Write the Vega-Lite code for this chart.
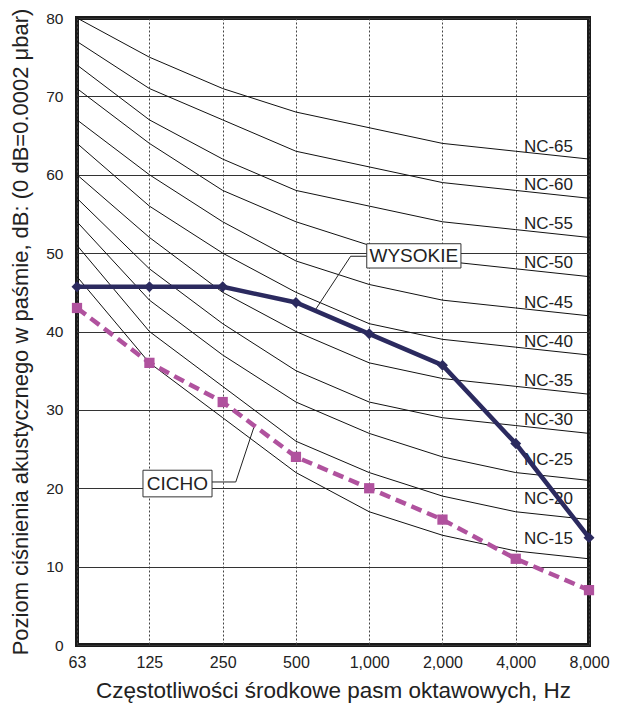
{
  "$schema": "https://vega.github.io/schema/vega-lite/v6.json",
  "width": 512,
  "height": 627,
  "autosize": "none",
  "padding": {"left": 77, "top": 18, "right": 30, "bottom": 63},
  "background": "white",
  "config": {
    "font": "Liberation Sans",
    "view": {"stroke": "#1a1a1a", "strokeWidth": 4},
    "axis": {"labelColor": "#222", "titleColor": "#222", "titleFontWeight": "normal", "domain": false, "ticks": false, "labelFlush": false}
  },
  "datasets": {
    "nc": [
      {"nc": "NC-15", "f": 63, "db": 47}, {"nc": "NC-15", "f": 125, "db": 36}, {"nc": "NC-15", "f": 250, "db": 29}, {"nc": "NC-15", "f": 500, "db": 22}, {"nc": "NC-15", "f": 1000, "db": 17}, {"nc": "NC-15", "f": 2000, "db": 14}, {"nc": "NC-15", "f": 4000, "db": 12}, {"nc": "NC-15", "f": 8000, "db": 11},
      {"nc": "NC-20", "f": 63, "db": 51}, {"nc": "NC-20", "f": 125, "db": 40}, {"nc": "NC-20", "f": 250, "db": 33}, {"nc": "NC-20", "f": 500, "db": 26}, {"nc": "NC-20", "f": 1000, "db": 22}, {"nc": "NC-20", "f": 2000, "db": 19}, {"nc": "NC-20", "f": 4000, "db": 17}, {"nc": "NC-20", "f": 8000, "db": 16},
      {"nc": "NC-25", "f": 63, "db": 54}, {"nc": "NC-25", "f": 125, "db": 44}, {"nc": "NC-25", "f": 250, "db": 37}, {"nc": "NC-25", "f": 500, "db": 31}, {"nc": "NC-25", "f": 1000, "db": 27}, {"nc": "NC-25", "f": 2000, "db": 24}, {"nc": "NC-25", "f": 4000, "db": 22}, {"nc": "NC-25", "f": 8000, "db": 21},
      {"nc": "NC-30", "f": 63, "db": 57}, {"nc": "NC-30", "f": 125, "db": 48}, {"nc": "NC-30", "f": 250, "db": 41}, {"nc": "NC-30", "f": 500, "db": 35}, {"nc": "NC-30", "f": 1000, "db": 31}, {"nc": "NC-30", "f": 2000, "db": 29}, {"nc": "NC-30", "f": 4000, "db": 28}, {"nc": "NC-30", "f": 8000, "db": 27},
      {"nc": "NC-35", "f": 63, "db": 60}, {"nc": "NC-35", "f": 125, "db": 52}, {"nc": "NC-35", "f": 250, "db": 45}, {"nc": "NC-35", "f": 500, "db": 40}, {"nc": "NC-35", "f": 1000, "db": 36}, {"nc": "NC-35", "f": 2000, "db": 34}, {"nc": "NC-35", "f": 4000, "db": 33}, {"nc": "NC-35", "f": 8000, "db": 32},
      {"nc": "NC-40", "f": 63, "db": 64}, {"nc": "NC-40", "f": 125, "db": 56}, {"nc": "NC-40", "f": 250, "db": 50}, {"nc": "NC-40", "f": 500, "db": 45}, {"nc": "NC-40", "f": 1000, "db": 41}, {"nc": "NC-40", "f": 2000, "db": 39}, {"nc": "NC-40", "f": 4000, "db": 38}, {"nc": "NC-40", "f": 8000, "db": 37},
      {"nc": "NC-45", "f": 63, "db": 67}, {"nc": "NC-45", "f": 125, "db": 60}, {"nc": "NC-45", "f": 250, "db": 54}, {"nc": "NC-45", "f": 500, "db": 49}, {"nc": "NC-45", "f": 1000, "db": 46}, {"nc": "NC-45", "f": 2000, "db": 44}, {"nc": "NC-45", "f": 4000, "db": 43}, {"nc": "NC-45", "f": 8000, "db": 42},
      {"nc": "NC-50", "f": 63, "db": 71}, {"nc": "NC-50", "f": 125, "db": 64}, {"nc": "NC-50", "f": 250, "db": 58}, {"nc": "NC-50", "f": 500, "db": 54}, {"nc": "NC-50", "f": 1000, "db": 51}, {"nc": "NC-50", "f": 2000, "db": 49}, {"nc": "NC-50", "f": 4000, "db": 48}, {"nc": "NC-50", "f": 8000, "db": 47},
      {"nc": "NC-55", "f": 63, "db": 74}, {"nc": "NC-55", "f": 125, "db": 67}, {"nc": "NC-55", "f": 250, "db": 62}, {"nc": "NC-55", "f": 500, "db": 58}, {"nc": "NC-55", "f": 1000, "db": 56}, {"nc": "NC-55", "f": 2000, "db": 54}, {"nc": "NC-55", "f": 4000, "db": 53}, {"nc": "NC-55", "f": 8000, "db": 52},
      {"nc": "NC-60", "f": 63, "db": 77}, {"nc": "NC-60", "f": 125, "db": 71}, {"nc": "NC-60", "f": 250, "db": 67}, {"nc": "NC-60", "f": 500, "db": 63}, {"nc": "NC-60", "f": 1000, "db": 61}, {"nc": "NC-60", "f": 2000, "db": 59}, {"nc": "NC-60", "f": 4000, "db": 58}, {"nc": "NC-60", "f": 8000, "db": 57},
      {"nc": "NC-65", "f": 63, "db": 80}, {"nc": "NC-65", "f": 125, "db": 75}, {"nc": "NC-65", "f": 250, "db": 71}, {"nc": "NC-65", "f": 500, "db": 68}, {"nc": "NC-65", "f": 1000, "db": 66}, {"nc": "NC-65", "f": 2000, "db": 64}, {"nc": "NC-65", "f": 4000, "db": 63}, {"nc": "NC-65", "f": 8000, "db": 62}
    ],
    "labels": [
      {"label": "NC-65", "f": 8000, "db": 63.6},
      {"label": "NC-60", "f": 8000, "db": 58.7},
      {"label": "NC-55", "f": 8000, "db": 53.7},
      {"label": "NC-50", "f": 8000, "db": 48.7},
      {"label": "NC-45", "f": 8000, "db": 43.7},
      {"label": "NC-40", "f": 8000, "db": 38.7},
      {"label": "NC-35", "f": 8000, "db": 33.7},
      {"label": "NC-30", "f": 8000, "db": 28.7},
      {"label": "NC-25", "f": 8000, "db": 23.6},
      {"label": "NC-20", "f": 8000, "db": 18.6},
      {"label": "NC-15", "f": 8000, "db": 13.5}
    ],
    "wysokie": [
      {"f": 63, "db": 45.7}, {"f": 125, "db": 45.7}, {"f": 250, "db": 45.7}, {"f": 500, "db": 43.7},
      {"f": 1000, "db": 39.7}, {"f": 2000, "db": 35.7}, {"f": 4000, "db": 25.7}, {"f": 8000, "db": 13.7}
    ],
    "cicho": [
      {"f": 63, "db": 43}, {"f": 125, "db": 36}, {"f": 250, "db": 31}, {"f": 500, "db": 24},
      {"f": 1000, "db": 20}, {"f": 2000, "db": 16}, {"f": 4000, "db": 11}, {"f": 8000, "db": 7}
    ],
    "leaders": [
      {"id": "WYSOKIE", "ord": 1, "f": 977, "db": 49.6},
      {"id": "WYSOKIE", "ord": 2, "f": 839, "db": 49.6},
      {"id": "WYSOKIE", "ord": 3, "f": 599, "db": 42.7},
      {"id": "CICHO", "ord": 1, "f": 226, "db": 20.8},
      {"id": "CICHO", "ord": 2, "f": 283, "db": 20.8},
      {"id": "CICHO", "ord": 3, "f": 336, "db": 27.8}
    ],
    "boxes": [
      {"label": "WYSOKIE", "f1": 977, "f2": 2382, "db1": 48.1, "db2": 51.2, "fc": 1525, "dbc": 49.65},
      {"label": "CICHO", "f1": 117.6, "f2": 226, "db1": 18.9, "db2": 22.3, "fc": 163, "dbc": 20.6}
    ]
  },
  "layer": [
    {
      "data": {"name": "nc"},
      "mark": {"type": "line", "color": "#111", "strokeWidth": 1},
      "encoding": {
        "x": {
          "field": "f", "type": "quantitative",
          "scale": {"type": "log", "domain": [63, 8000], "nice": false},
          "axis": {
            "values": [63, 125, 250, 500, 1000, 2000, 4000, 8000],
            "format": ",d",
            "grid": true, "gridColor": "#444", "gridDash": [2, 2], "gridWidth": 1,
            "labelFontSize": 16, "labelPadding": 9,
            "title": "Częstotliwości środkowe pasm oktawowych, Hz",
            "titleFontSize": 22.5, "titlePadding": 9
          }
        },
        "y": {
          "field": "db", "type": "quantitative",
          "scale": {"domain": [0, 80], "nice": false},
          "axis": {
            "values": [0, 5, 10, 15, 20, 25, 30, 35, 40, 45, 50, 55, 60, 65, 70, 75, 80],
            "labelExpr": "datum.value % 10 === 0 ? datum.label : ''",
            "grid": true, "gridColor": "#333", "gridWidth": 1,
            "labelFontSize": 15.5, "labelPadding": 14,
            "title": "Poziom ciśnienia akustycznego w paśmie, dB: (0 dB=0.0002 μbar)",
            "titleFontSize": 22, "titlePadding": 13
          }
        },
        "detail": {"field": "nc"}
      }
    },
    {
      "data": {"name": "leaders"},
      "mark": {"type": "line", "color": "#222", "strokeWidth": 1},
      "encoding": {
        "x": {"field": "f", "type": "quantitative"},
        "y": {"field": "db", "type": "quantitative"},
        "detail": {"field": "id"},
        "order": {"field": "ord"}
      }
    },
    {
      "data": {"name": "labels"},
      "mark": {"type": "text", "align": "right", "baseline": "middle", "dx": -16, "fontSize": 17, "color": "#222"},
      "encoding": {
        "x": {"field": "f", "type": "quantitative"},
        "y": {"field": "db", "type": "quantitative"},
        "text": {"field": "label"}
      }
    },
    {
      "data": {"name": "cicho"},
      "mark": {"type": "line", "color": "#b0529e", "strokeWidth": 4.5, "strokeDash": [11, 6]},
      "encoding": {
        "x": {"field": "f", "type": "quantitative"},
        "y": {"field": "db", "type": "quantitative"}
      }
    },
    {
      "data": {"name": "cicho"},
      "mark": {"type": "point", "shape": "square", "filled": true, "size": 105, "color": "#b0529e", "opacity": 1},
      "encoding": {
        "x": {"field": "f", "type": "quantitative"},
        "y": {"field": "db", "type": "quantitative"}
      }
    },
    {
      "data": {"name": "wysokie"},
      "mark": {"type": "line", "color": "#2b2a5f", "strokeWidth": 4.5},
      "encoding": {
        "x": {"field": "f", "type": "quantitative"},
        "y": {"field": "db", "type": "quantitative"}
      }
    },
    {
      "data": {"name": "wysokie"},
      "mark": {"type": "point", "shape": "diamond", "filled": true, "size": 120, "color": "#2b2a5f", "opacity": 1},
      "encoding": {
        "x": {"field": "f", "type": "quantitative"},
        "y": {"field": "db", "type": "quantitative"}
      }
    },
    {
      "data": {"name": "boxes"},
      "mark": {"type": "rect", "fill": "white", "stroke": "#333", "strokeWidth": 1},
      "encoding": {
        "x": {"field": "f1", "type": "quantitative"},
        "x2": {"field": "f2"},
        "y": {"field": "db1", "type": "quantitative"},
        "y2": {"field": "db2"}
      }
    },
    {
      "data": {"name": "boxes"},
      "mark": {"type": "text", "align": "center", "baseline": "middle", "fontSize": 19, "color": "#222"},
      "encoding": {
        "x": {"field": "fc", "type": "quantitative"},
        "y": {"field": "dbc", "type": "quantitative"},
        "text": {"field": "label"}
      }
    }
  ]
}
